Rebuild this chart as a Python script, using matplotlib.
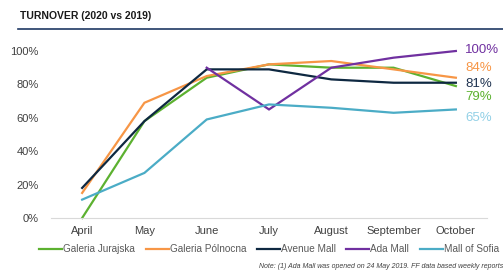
import matplotlib
matplotlib.use('Agg')
import matplotlib.pyplot as plt
from matplotlib.lines import Line2D
import numpy as np

plt.rcParams['font.family'] = ['Liberation Sans', 'DejaVu Sans']

months = ['April', 'May', 'June', 'July', 'August', 'September', 'October']
names = ['Galeria Jurajska', 'Galeria Pólnocna', 'Avenue Mall', 'Ada Mall', 'Mall of Sofia']
jurajska = [0, 58, 84, 92, 90, 90, 79]
polnocna = [15, 69, 85, 92, 94, 89, 84]
avenue = [18, 58, 89, 89, 83, 81, 81]
ada = [None, None, 90, 65, 90, 96, 100]
sofia = [11, 27, 59, 68, 66, 63, 65]
series = [jurajska, polnocna, avenue, ada, sofia]
colors = ['#5cb130', '#f79646', '#0e2841', '#7030a0', '#4bacc6']
label_colors = ['#5cb130', '#f79646', '#1f3350', '#7030a0', '#92d0e6']

fig = plt.figure(figsize=(5.03, 2.72), dpi=100)
ax = fig.add_axes([51 / 503, 54 / 272, 436 / 503, 167 / 272])

x = np.arange(len(months))
handles = []
for vals, c in zip(series, colors):
    v = np.array([np.nan if a is None else a for a in vals], dtype=float)
    ln, = ax.plot(x, v, color=c, linewidth=1.6, clip_on=False, solid_joinstyle='miter')
    handles.append(ln)

ax.set_xlim(-0.5, 6.5)
ax.set_ylim(0, 100)
ax.set_yticks([0, 20, 40, 60, 80, 100])
ax.set_yticklabels([f'{t}%' for t in [0, 20, 40, 60, 80, 100]])
ax.set_xticks(x)
ax.set_xticklabels(months)
ax.tick_params(length=0, labelsize=8, colors='#000000', labelcolor='#404040')
ax.tick_params(axis='y', pad=9)
ax.tick_params(axis='x', pad=6)
for s in ['top', 'right', 'left']:
    ax.spines[s].set_visible(False)
ax.spines['bottom'].set_color('#d9d9d9')
ax.spines['bottom'].set_linewidth(0.8)

# end labels
end_y = [97, 68, 84, 50, 118]
for vals, lc, yp in zip(series, label_colors, end_y):
    fig.text(465 / 503, 1 - yp / 272, f'{vals[-1]}%', color=lc, fontsize=9.5,
             ha='left', va='center')

# title with rule
fig.text(20 / 503, 1 - 16 / 272, 'TURNOVER (2020 vs 2019)', fontsize=7.5,
         fontweight='bold', color='#1a1a1a', ha='left', va='center')
fig.add_artist(Line2D([18 / 503, 1.0], [1 - 29 / 272, 1 - 29 / 272],
                      color='#1f3864', linewidth=1.2))

leg = fig.legend(handles, names, loc='center', bbox_to_anchor=(269 / 503, 1 - 249 / 272),
                 ncol=5, frameon=False, fontsize=7.2, handlelength=2.3,
                 handletextpad=0.1, columnspacing=1.05, labelcolor='#595959',
                 borderpad=0, borderaxespad=0)

fig.text(1.0, 1 - 267 / 272,
         'Note: (1) Ada Mall was opened on 24 May 2019. FF data based weekly reports',
         fontsize=5, style='italic', color='#404040', ha='right', va='center')

fig.savefig('out.png', dpi=100)
